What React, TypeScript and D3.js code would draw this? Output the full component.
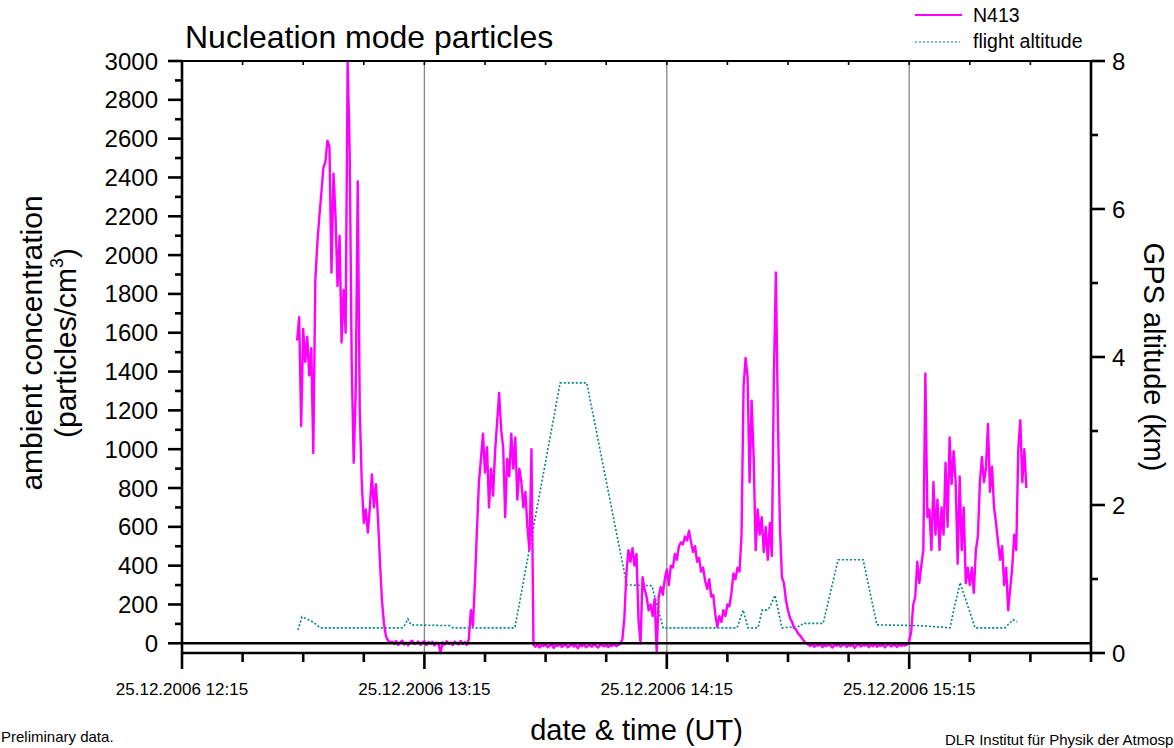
import React from "react";
import * as d3 from "d3";

const WIDTH = 1174;
const HEIGHT = 748;
const FONT = "'Liberation Sans', Arial, Helvetica, sans-serif";

const plot = { left: 182, right: 1091, top: 61, bottom: 653 };

// Time axis: 25.12.2006, 12:15 – 16:00 UT
const timeStart = Date.UTC(2006, 11, 25, 12, 15);
const timeEnd = Date.UTC(2006, 11, 25, 16, 0);
const majorTickMinutes = [15, 75, 135, 195]; // minutes after 12:00 UT
const minorTickMinutes = [30, 45, 60, 90, 105, 120, 150, 165, 180, 210, 225, 240];
const timeTickLabels = ["25.12.2006 12:15", "25.12.2006 13:15", "25.12.2006 14:15", "25.12.2006 15:15"];

// Left axis: ambient concentration (particles/cm³)
const concentrationDomain = [-50, 3000];
const concentrationTicks = [0, 200, 400, 600, 800, 1000, 1200, 1400, 1600, 1800, 2000, 2200, 2400, 2600, 2800, 3000];
const concentrationMinorTicks = [100, 300, 500, 700, 900, 1100, 1300, 1500, 1700, 1900, 2100, 2300, 2500, 2700, 2900];

// Right axis: GPS altitude (km)
const altitudeDomain = [0, 8];
const altitudeTicks = [0, 2, 4, 6, 8];
const altitudeMinorTicks = [1, 3, 5, 7];

// N413 concentration, one sample every 30 s from 12:43:30 UT
const n413StartMinute = 43.5;
const n413StepMinutes = 0.5;
const n413Values = [
  1560, 1680, 1120, 1620, 1450, 1580, 1380, 1520, 980, 1870,
  2060, 2200, 2320, 2450, 2480, 2590, 2560, 1910, 2420, 2200,
  1840, 2100, 1550, 1820, 1600, 2995, 2540, 1450, 930, 1300,
  2380, 1200, 830, 620, 690, 570, 700, 870, 700, 820,
  650, 420, 220, 100, 35, 15, 5,
  8, -4, 12, -8, 5, 14, -6, 3, -10, 7,
  13, -3, 1, 9, -7, 4, 11, -9, 6, -2,
  8, -11, 3, -4, -50, 5, -7, 10, -2, 4,
  -9, 9, 0, -6, 12, -3, 6, -8,
  20, 170, 90, 310, 580, 830, 950, 1080, 880, 1010,
  700, 900, 760, 990, 1140, 1290, 1100, 1010, 650, 950,
  860, 1080, 900, 1060, 740, 900, 830, 700, 780, 600,
  480, 1000,
  -8, -18, -5, -22, -10, -15, -3, -20, -12, -6,
  -24, -9, -14, -2, -19, -11, -7, -21, -13, -4,
  -17, -10, -25, -8, -15, -5, -20, -12, -9, -18,
  -3, -14, -22, -7, -11, -16, -6, -19, -10, -13,
  -4, -15, -8, -2,
  20, 130, 360, 480, 420, 490, 400, 460, 120, 0,
  340, 280, 240, 170, 200, 140, 230, -50, 240, 290,
  250, 330, 380, 300, 400, 390, 460, 430, 500, 520,
  510, 550, 530, 580, 520, 470, 500, 420, 440, 370,
  390, 320, 280, 330, 240, 250, 150, 85, 140, 110,
  170, 140, 200, 190, 260, 360, 330, 390, 370, 560,
  1320, 1470, 1370, 830, 1250, 960, 480, 690, 560, 650,
  470, 600, 430, 620, 450, 1370, 1910, 1160, 600, 340,
  310, 220, 170, 130, 110, 80, 70, 50, 40, 25,
  10, 0,
  -6, -14, -3, -18, -9, -12, -2, -20, -8, -15,
  -5, -11, -22, -7, -13, -4, -17, -10, -1, -19,
  -8, -14, -6, -23, -11, -3, -16, -9, -12, -5,
  -20, -7, -15, -2, -18, -10, -13, -6, -21, -9,
  -4, -16, -11, -8, -19, -3, -14, -7, -12, -5,
  10, 60, 200, 240, 420, 310, 400, 480, 1390, 650,
  690, 480, 830, 560, 740, 480, 700, 560, 930, 600,
  1060, 820, 990, 830, 410, 860, 480, 700, 310, 390,
  300, 390, 260, 480, 550, 830, 960, 830, 900, 1130,
  780, 910, 700, 620, 520, 430, 500, 300, 390, 170,
  280, 390, 560, 480, 1000, 1150, 830, 1000, 800,
];

// Flight altitude (km) at minutes after 12:00 UT
const altitudeMinutes = [
  43.7, 44.7, 47.4, 49.2, 69.5, 70.2, 70.9, 71.7, 81.3, 82.1,
  97.4, 102.5, 108.6, 115.2, 125.1, 131.3, 134.1, 152.4, 153.9, 155.1,
  157.6, 158.6, 159.8, 160.5, 161.8, 163.5, 168.0, 168.7, 173.7, 177.4,
  183.6, 187.0, 197.7, 205.1, 205.9, 207.6, 211.3, 218.7, 220.7, 221.7,
];
const altitudeKm = [
  0.31, 0.49, 0.42, 0.34, 0.34, 0.38, 0.46, 0.38, 0.37, 0.34,
  0.34, 1.85, 3.65, 3.65, 0.92, 0.91, 0.34, 0.34, 0.58, 0.34,
  0.34, 0.58, 0.58, 0.62, 0.78, 0.34, 0.36, 0.40, 0.40, 1.26,
  1.26, 0.38, 0.37, 0.34, 0.55, 0.95, 0.34, 0.34, 0.45, 0.42,
];

const legendLabels = ["N413", "flight altitude"];

const atMinute = (m: number) => new Date(Date.UTC(2006, 11, 25, 12, 0) + m * 60000);

export default function App() {
  const x = d3.scaleUtc().domain([new Date(timeStart), new Date(timeEnd)]).range([plot.left, plot.right]);
  const yL = d3.scaleLinear().domain(concentrationDomain).range([plot.bottom, plot.top]);
  const yR = d3.scaleLinear().domain(altitudeDomain).range([plot.bottom, plot.top]);

  const n413 = n413Values.map((v, i) => ({ t: atMinute(n413StartMinute + i * n413StepMinutes), v }));
  const altitude = altitudeMinutes.map((m, i) => ({ t: atMinute(m), v: altitudeKm[i] }));

  const n413Line = d3.line<{ t: Date; v: number }>().x((d) => x(d.t)).y((d) => yL(d.v));
  const altLine = d3.line<{ t: Date; v: number }>().x((d) => x(d.t)).y((d) => yR(d.v));

  const axisStroke = 2.6;
  const midY = (plot.top + plot.bottom) / 2;
  const midX = (plot.left + plot.right) / 2;

  return (
    <svg width={WIDTH} height={HEIGHT} style={{ display: "block", position: "absolute", left: 0, top: 0, background: "#fff" }} fontFamily={FONT}>
      <rect x={0} y={0} width={WIDTH} height={HEIGHT} fill="#fff" />

      {/* hourly grid lines */}
      {majorTickMinutes.slice(1).map((m) => (
        <line key={m} x1={x(atMinute(m))} x2={x(atMinute(m))} y1={plot.top} y2={plot.bottom} stroke="#888" strokeWidth={1.3} />
      ))}

      {/* flight altitude */}
      <path d={altLine(altitude) || ""} fill="none" stroke="#008585" strokeWidth={1.6} strokeDasharray="2 2" />

      {/* N413 */}
      <path d={n413Line(n413) || ""} fill="none" stroke="#ff00ff" strokeWidth={2.4} strokeLinejoin="round" />

      {/* zero line */}
      <line x1={plot.left} x2={plot.right} y1={yL(0)} y2={yL(0)} stroke="#000" strokeWidth={axisStroke} />

      {/* frame */}
      <line x1={plot.left} x2={plot.right} y1={plot.top} y2={plot.top} stroke="#000" strokeWidth={2.2} />
      <line x1={plot.left} x2={plot.right} y1={plot.bottom} y2={plot.bottom} stroke="#000" strokeWidth={axisStroke} />
      <line x1={plot.left} x2={plot.left} y1={plot.top} y2={plot.bottom} stroke="#000" strokeWidth={axisStroke} />
      <line x1={plot.right} x2={plot.right} y1={plot.top} y2={plot.bottom} stroke="#000" strokeWidth={axisStroke} />

      {/* bottom axis ticks */}
      {majorTickMinutes.map((m) => (
        <line key={"M" + m} x1={x(atMinute(m))} x2={x(atMinute(m))} y1={plot.bottom} y2={plot.bottom + 16} stroke="#000" strokeWidth={axisStroke} />
      ))}
      {minorTickMinutes.map((m) => (
        <line key={"m" + m} x1={x(atMinute(m))} x2={x(atMinute(m))} y1={plot.bottom} y2={plot.bottom + 9} stroke="#000" strokeWidth={axisStroke} />
      ))}
      {/* top axis ticks (inward) */}
      {[...majorTickMinutes, ...minorTickMinutes].map((m) => (
        <line key={"t" + m} x1={x(atMinute(m))} x2={x(atMinute(m))} y1={plot.top} y2={plot.top + 4} stroke="#000" strokeWidth={1.6} />
      ))}
      {majorTickMinutes.map((m, i) => (
        <text key={"l" + m} x={x(atMinute(m))} y={695} fontSize={17} textAnchor="middle" fill="#000">
          {timeTickLabels[i]}
        </text>
      ))}

      {/* left axis */}
      {concentrationTicks.map((v) => (
        <g key={"c" + v}>
          <line x1={plot.left - 14} x2={plot.left} y1={yL(v)} y2={yL(v)} stroke="#000" strokeWidth={axisStroke} />
          <text x={158} y={yL(v) + 8.5} fontSize={24} textAnchor="end" fill="#000">{v}</text>
        </g>
      ))}
      {concentrationMinorTicks.map((v) => (
        <line key={"cm" + v} x1={plot.left - 7} x2={plot.left} y1={yL(v)} y2={yL(v)} stroke="#000" strokeWidth={axisStroke} />
      ))}

      {/* right axis */}
      {altitudeTicks.map((v) => (
        <g key={"a" + v}>
          <line x1={plot.right} x2={plot.right + 14} y1={yR(v)} y2={yR(v)} stroke="#000" strokeWidth={axisStroke} />
          <text x={1112} y={yR(v) + 8.5} fontSize={24} textAnchor="start" fill="#000">{v}</text>
        </g>
      ))}
      {altitudeMinorTicks.map((v) => (
        <line key={"am" + v} x1={plot.right} x2={plot.right + 7} y1={yR(v)} y2={yR(v)} stroke="#000" strokeWidth={axisStroke} />
      ))}

      {/* titles */}
      <text x={185} y={48} fontSize={32} fill="#000">Nucleation mode particles</text>
      <text x={midX} y={740} fontSize={29} textAnchor="middle" fill="#000">date &amp; time (UT)</text>
      <g transform={`translate(42, 343) rotate(-90)`}>
        <text x={0} y={0} fontSize={30} textAnchor="middle" fill="#000">ambient concentration</text>
        <text x={0} y={34} fontSize={30} textAnchor="middle" fill="#000">
          (particles/cm<tspan fontSize={18} dy={-13}>3</tspan><tspan dy={13}>)</tspan>
        </text>
      </g>
      <g transform={`translate(1144, ${midY}) rotate(90)`}>
        <text x={0} y={0} fontSize={29} textAnchor="middle" fill="#000">GPS altitude (km)</text>
      </g>

      {/* legend */}
      <line x1={915} x2={962} y1={15} y2={15} stroke="#ff00ff" strokeWidth={2} />
      <text x={973} y={22} fontSize={19.5} fill="#000">{legendLabels[0]}</text>
      <line x1={915} x2={960} y1={42} y2={42} stroke="#4aafaf" strokeWidth={1.6} strokeDasharray="2 2" />
      <text x={973} y={48} fontSize={19.5} fill="#000">{legendLabels[1]}</text>

      {/* footer notes */}
      <text x={1} y={742} fontSize={15} fill="#000">Preliminary data.</text>
      <text x={945} y={745} fontSize={15} fill="#000">DLR Institut für Physik der Atmosphäre</text>
    </svg>
  );
}
